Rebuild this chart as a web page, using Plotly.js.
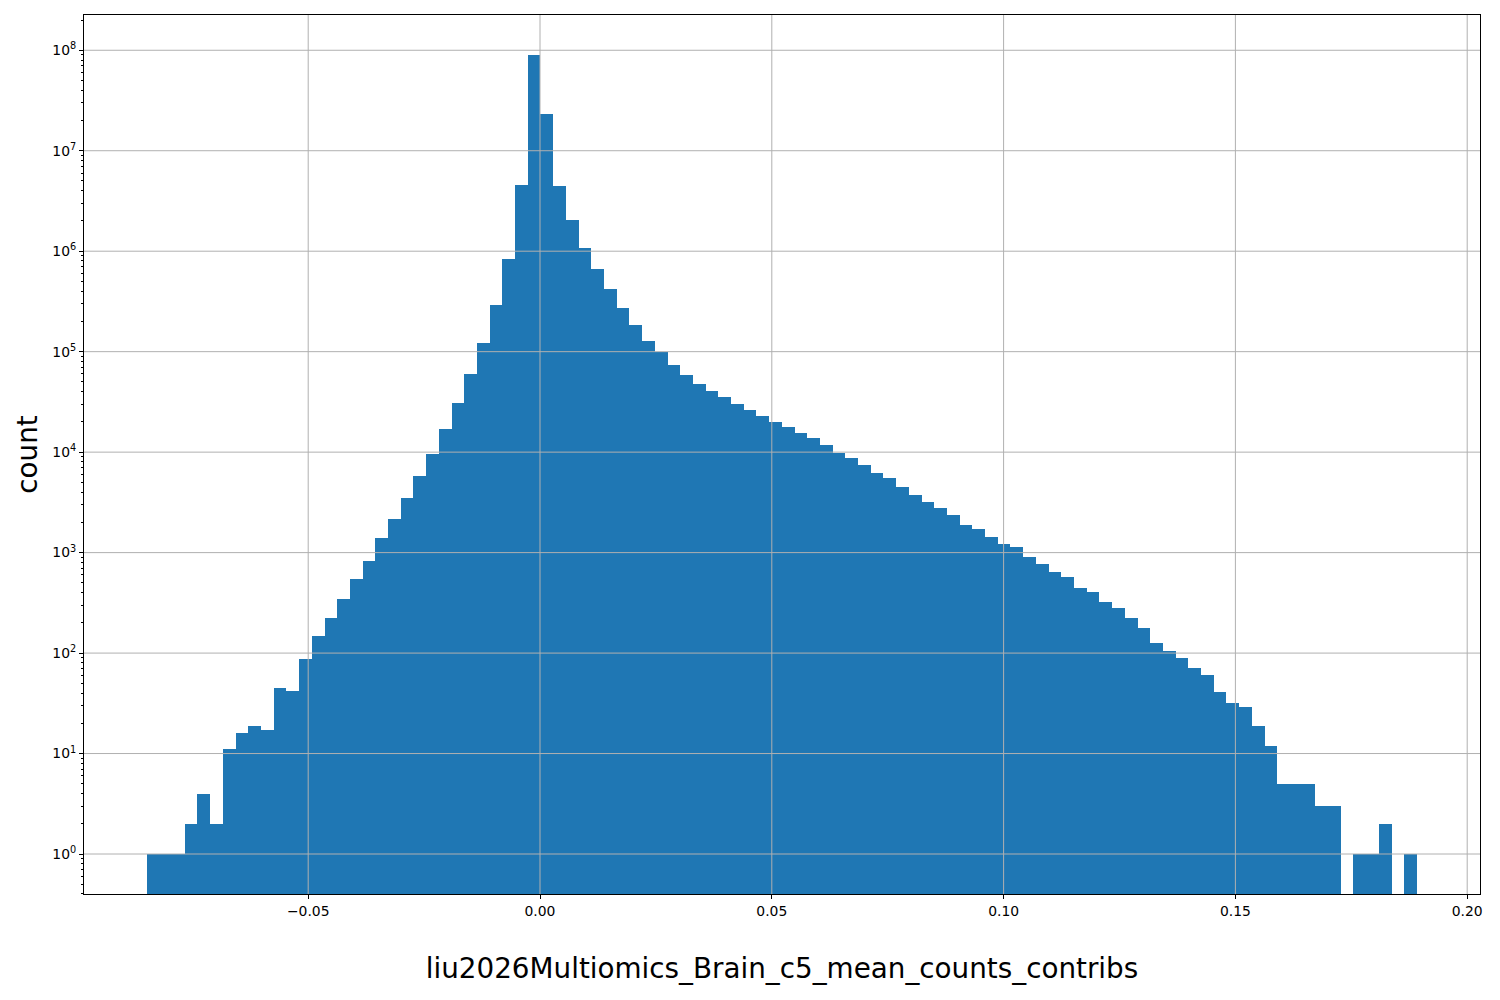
<!DOCTYPE html>
<html>
<head>
<meta charset="utf-8">
<script src="https://cdn.plot.ly/plotly-3.0.1.min.js"></script>
<style>html,body{margin:0;padding:0;background:#fff;}#chart{width:1500px;height:1000px;}</style>
</head>
<body>
<div id="chart"></div>
<script>
// Histogram bins: 100 equal-width bins
const binStart = -0.08484;
const binEnd = 0.18917;
const nBins = 100;
const counts = [
  1, 1, 1, 2, 4, 2, 11, 16, 19, 17,
  45, 42, 87, 147, 224, 345, 545, 824, 1390, 2150,
  3490, 5800, 9600, 17000, 30900, 60000, 122000, 290000, 840000, 4600000,
  89000000, 23000000, 4500000, 2030000, 1070000, 660000, 420000, 270000, 183000, 128000,
  99000, 74000, 58000, 48000, 41000, 35000, 30000, 26000, 23000, 20000,
  17800, 15500, 13900, 11800, 9900, 8800, 7400, 6200, 5500, 4500,
  3750, 3200, 2790, 2370, 1880, 1720, 1430, 1220, 1140, 900,
  770, 640, 570, 443, 405, 322, 280, 224, 178, 125,
  104, 89, 71, 60, 41, 32, 29, 19, 12, 5,
  5, 5, 3, 3, 0, 1, 1, 2, 0, 1
];
const xTicks = [-0.05, 0.00, 0.05, 0.10, 0.15, 0.20];
const xTickText = ['\u22120.05', '0.00', '0.05', '0.10', '0.15', '0.20'];
const yTicks = [1, 10, 100, 1000, 10000, 100000, 1000000, 10000000, 100000000];
const yTickText = ['10<sup>0</sup>', '10<sup>1</sup>', '10<sup>2</sup>', '10<sup>3</sup>', '10<sup>4</sup>',
                   '10<sup>5</sup>', '10<sup>6</sup>', '10<sup>7</sup>', '10<sup>8</sup>'];
const xLabel = 'liu2026Multiomics_Brain_c5_mean_counts_contribs';
const yLabel = 'count';

const binWidth = (binEnd - binStart) / nBins;
const centers = counts.map((_, i) => binStart + binWidth * (i + 0.5));
const yVals = counts.map(c => c > 0 ? c : null);

const gridColor = '#b0b0b0';
const shapes = [];
xTicks.forEach(v => shapes.push({type:'line', xref:'x', yref:'paper', x0:v, x1:v, y0:0, y1:1,
  line:{color:gridColor, width:1}, layer:'above'}));
yTicks.forEach(v => shapes.push({type:'line', xref:'paper', yref:'y', x0:0, x1:1, y0:v, y1:v,
  line:{color:gridColor, width:1}, layer:'above'}));

const trace = {
  type:'bar', x:centers, y:yVals, width:binWidth,
  marker:{color:'#1f77b4', line:{width:0}},
  hoverinfo:'x+y'
};

const fam = 'DejaVu Sans, sans-serif';
const layout = {
  width:1500, height:1000,
  margin:{l:84, r:20, t:15, b:106},
  paper_bgcolor:'#fff', plot_bgcolor:'#fff',
  font:{family:fam, color:'#000', size:14},
  showlegend:false,
  bargap:0,
  shapes:shapes,
  xaxis:{
    range:[-0.09836, 0.20276],
    tickmode:'array', tickvals:xTicks, ticktext:xTickText,
    ticks:'outside', ticklen:4, tickwidth:1, tickcolor:'#000',
    showgrid:false, zeroline:false,
    showline:true, linecolor:'#000', linewidth:1, mirror:true,
    tickfont:{family:fam, size:13.9, color:'#000'},
    title:{text:xLabel, font:{family:fam, size:27.8, color:'#000'}, standoff:40},
    automargin:true
  },
  yaxis:{
    type:'log',
    range:[-0.398, 8.351],
    tickmode:'array', tickvals:yTicks, ticktext:yTickText,
    ticks:'outside', ticklen:4, tickwidth:1, tickcolor:'#000',
    minor:{ticks:'outside', ticklen:2, tickwidth:1, tickcolor:'#000', tickmode:'linear', dtick:'D1', showgrid:false},
    showgrid:false, zeroline:false,
    showline:true, linecolor:'#000', linewidth:1, mirror:true,
    tickfont:{family:fam, size:13.9, color:'#000'},
    title:{text:yLabel, font:{family:fam, size:27.8, color:'#000'}, standoff:6},
    automargin:true
  }
};

Plotly.newPlot('chart', [trace], layout, {displayModeBar:false, staticPlot:true});
</script>
</body>
</html>
